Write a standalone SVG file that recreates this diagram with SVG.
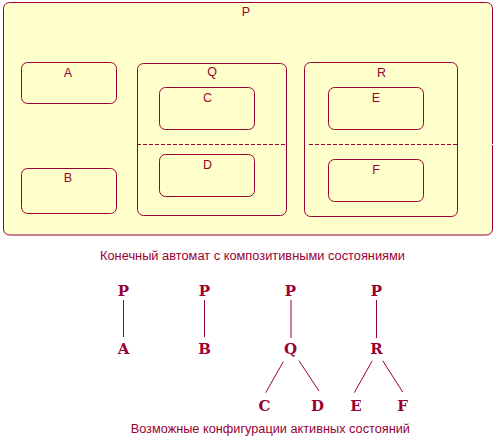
<svg xmlns="http://www.w3.org/2000/svg" width="500" height="441" viewBox="0 0 500 441">
<style>
.st{fill:#FFFFCC;stroke:#990033;stroke-width:1}
.in{fill:none;stroke:#990033;stroke-width:1}
.lb{font-family:"Liberation Sans",Arial,sans-serif;font-size:12.5px;fill:#990033;text-anchor:middle}
.cap{font-family:"Liberation Sans",Arial,sans-serif;font-size:12.5px;fill:#990033}
.tl{font-family:"DejaVu Serif",serif;font-weight:bold;font-size:15px;fill:#990033;text-anchor:middle}
.cn{stroke:#990033;stroke-width:1;fill:none}
.dash{stroke:#990033;stroke-width:1;stroke-dasharray:4 2;fill:none}
</style>
<rect width="500" height="441" fill="#FFFFFF"/>
<g id="P">
<rect class="st" x="3.5" y="2.5" width="489" height="232.5" rx="6"/>
<text class="lb" x="246" y="16">P</text>
</g>
<g id="A">
<rect class="in" x="21.5" y="62.5" width="95" height="41" rx="6"/>
<text class="lb" x="68" y="77">A</text>
</g>
<g id="B">
<rect class="in" x="21.5" y="168.5" width="95" height="45" rx="6"/>
<text class="lb" x="68" y="182">B</text>
</g>
<g id="Q">
<rect class="in" x="137.5" y="63.5" width="149" height="152" rx="6"/>
<text class="lb" x="212" y="76">Q</text>
</g>
<g id="C">
<rect class="in" x="159.5" y="87.5" width="95" height="42" rx="6"/>
<text class="lb" x="207.5" y="101.5">C</text>
</g>
<g id="D">
<rect class="in" x="159.5" y="154.5" width="95" height="42" rx="6"/>
<text class="lb" x="207.5" y="169">D</text>
</g>
<g id="R">
<rect class="in" x="304.5" y="62.5" width="153" height="154" rx="6"/>
<text class="lb" x="381.5" y="77">R</text>
</g>
<g id="E">
<rect class="in" x="328.5" y="87.5" width="95" height="42" rx="6"/>
<text class="lb" x="376" y="102">E</text>
</g>
<g id="F">
<rect class="in" x="328.5" y="159.5" width="95" height="42" rx="6"/>
<text class="lb" x="376" y="174">F</text>
</g>
<g id="separators">
<line class="dash" x1="137" y1="144.5" x2="287" y2="144.5"/>
<line class="dash" x1="309" y1="144.5" x2="457" y2="144.5"/>
<line stroke="#FFFFFF" stroke-width="1" x1="459" y1="144.5" x2="462" y2="144.5"/>
<line stroke="#FFFFFF" stroke-width="1" x1="467" y1="144.5" x2="470" y2="144.5"/>
<line stroke="#FFFFFF" stroke-width="1" x1="491" y1="144.5" x2="494" y2="144.5"/>
</g>
<text class="cap" x="100" y="260" textLength="305" lengthAdjust="spacingAndGlyphs">Конечный автомат с композитивными состояниями</text>
<g id="tree-nodes">
<g id="t1P"><text class="tl" x="123.5" y="296">P</text></g>
<g id="t1A"><text class="tl" x="123.5" y="353.5">A</text></g>
<g id="t2P"><text class="tl" x="204.5" y="296">P</text></g>
<g id="t2B"><text class="tl" x="204.5" y="353.5">B</text></g>
<g id="t3P"><text class="tl" x="290.5" y="296">P</text></g>
<g id="t3Q"><text class="tl" x="290.5" y="353.5">Q</text></g>
<g id="t3C"><text class="tl" x="264.5" y="410.5">C</text></g>
<g id="t3D"><text class="tl" x="317.5" y="410.5">D</text></g>
<g id="t4P"><text class="tl" x="376.5" y="296">P</text></g>
<g id="t4R"><text class="tl" x="376.5" y="353.5">R</text></g>
<g id="t4E"><text class="tl" x="356" y="410.5">E</text></g>
<g id="t4F"><text class="tl" x="402.5" y="410.5">F</text></g>
</g>
<g id="connectors">
<line class="cn" x1="123.5" y1="300" x2="123.5" y2="337"/>
<line class="cn" x1="204.5" y1="300" x2="204.5" y2="337"/>
<line class="cn" x1="291" y1="300" x2="291" y2="338"/>
<line class="cn" x1="376.5" y1="300" x2="376.5" y2="338"/>
<line class="cn" x1="283.3" y1="361.7" x2="265.7" y2="392.7"/>
<line class="cn" x1="299" y1="360.7" x2="319" y2="391"/>
<line class="cn" x1="372.3" y1="360.7" x2="354.3" y2="392.7"/>
<line class="cn" x1="382.7" y1="360.7" x2="402.7" y2="392"/>
</g>
<text class="cap" x="130.7" y="433" textLength="279.3" lengthAdjust="spacingAndGlyphs">Возможные конфигурации активных состояний</text>
</svg>
